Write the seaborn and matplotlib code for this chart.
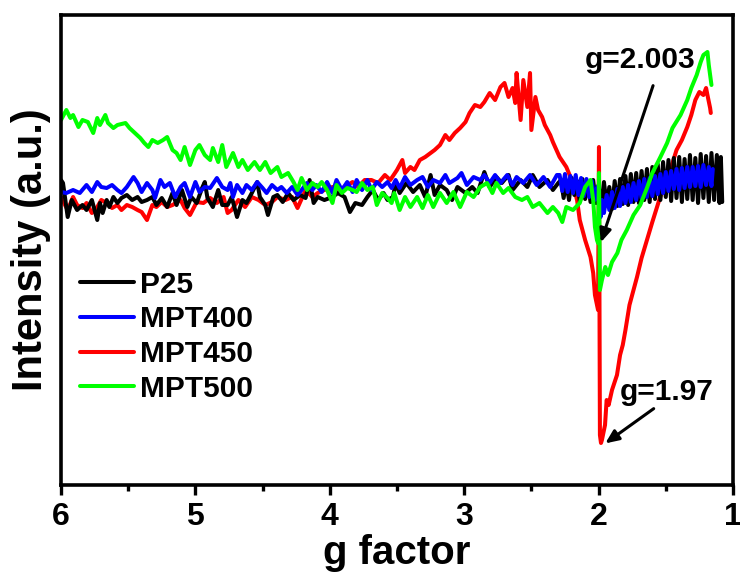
import matplotlib
matplotlib.use("Agg")
import matplotlib.pyplot as plt
from matplotlib.ticker import MultipleLocator
from matplotlib.lines import Line2D
import seaborn as sns
import pandas as pd

# ---- data: (g factor, intensity in arbitrary units) ----
labels = ["P25", "MPT400", "MPT450", "MPT500"]
colors = {"P25": "#000000", "MPT400": "#0000ff", "MPT450": "#ff0000", "MPT500": "#00ff00"}

p25 = [(6.00, 305), (5.985, 302), (5.95, 268), (5.92, 285), (5.88, 275), (5.84, 280), (5.81, 275),
       (5.77, 285), (5.73, 265), (5.71, 282), (5.69, 272), (5.66, 285), (5.64, 278), (5.61, 288),
       (5.58, 282), (5.55, 287), (5.51, 290), (5.47, 285), (5.43, 288), (5.40, 283), (5.36, 285),
       (5.32, 288), (5.29, 280), (5.25, 287), (5.21, 278), (5.17, 292), (5.14, 280), (5.10, 295),
       (5.06, 278), (5.03, 288), (4.99, 282), (4.95, 297), (4.93, 303), (4.91, 287), (4.87, 278),
       (4.83, 295), (4.80, 280), (4.76, 280), (4.73, 288), (4.69, 268), (4.65, 285), (4.62, 282),
       (4.58, 292), (4.54, 303), (4.52, 288), (4.48, 280), (4.46, 270), (4.42, 288), (4.39, 290),
       (4.35, 283), (4.31, 292), (4.27, 285), (4.22, 290), (4.18, 287), (4.15, 305), (4.12, 282),
       (4.09, 288), (4.04, 285), (3.98, 288), (3.94, 292), (3.89, 288), (3.85, 273), (3.81, 282),
       (3.76, 280), (3.72, 288), (3.68, 295), (3.64, 285), (3.60, 292), (3.57, 285), (3.53, 288),
       (3.51, 302), (3.48, 292), (3.43, 302), (3.38, 293), (3.33, 300), (3.29, 288), (3.25, 310),
       (3.22, 290), (3.18, 300), (3.13, 295), (3.09, 285), (3.05, 298), (2.99, 292), (2.94, 298),
       (2.90, 292), (2.85, 313), (2.81, 298), (2.76, 308), (2.72, 302), (2.67, 310), (2.64, 295),
       (2.58, 305), (2.53, 298), (2.49, 310), (2.44, 298), (2.38, 305), (2.34, 295), (2.30, 302),
       (2.28, 305), (2.26, 287), (2.24, 303), (2.22, 285), (2.20, 307), (2.18, 290), (2.16, 304),
       (2.14, 284), (2.12, 306), (2.10, 286), (2.08, 303), (2.06, 283), (2.04, 305), (2.02, 282),
       (2.00, 300), (1.98, 278), (1.96, 303), (1.94, 280), (1.92, 298), (1.90, 276), (1.88, 304),
       (1.86, 279), (1.84, 306), (1.82, 281), (1.80, 309), (1.78, 280), (1.76, 311), (1.74, 283),
       (1.72, 312), (1.70, 282), (1.68, 314), (1.66, 285), (1.64, 316), (1.62, 283), (1.60, 318),
       (1.58, 286), (1.56, 321), (1.54, 285), (1.52, 323), (1.50, 288), (1.48, 325), (1.46, 284),
       (1.44, 327), (1.42, 287), (1.40, 328), (1.38, 283), (1.36, 326), (1.34, 286), (1.32, 330),
       (1.30, 285), (1.28, 327), (1.26, 282), (1.24, 331), (1.22, 287), (1.20, 329), (1.18, 283),
       (1.16, 332), (1.14, 285), (1.12, 330), (1.10, 282), (1.09, 328), (1.08, 283)]

mpt400 = [(6.00, 293), (5.96, 292), (5.91, 295), (5.86, 292), (5.81, 300), (5.77, 293), (5.73, 303),
          (5.70, 298), (5.66, 297), (5.62, 300), (5.58, 295), (5.55, 292), (5.51, 298), (5.46, 308),
          (5.43, 302), (5.40, 293), (5.36, 302), (5.32, 295), (5.30, 287), (5.26, 305), (5.23, 298),
          (5.19, 302), (5.15, 288), (5.11, 298), (5.08, 302), (5.04, 288), (5.00, 303), (4.97, 293),
          (4.93, 298), (4.89, 297), (4.84, 307), (4.80, 298), (4.76, 295), (4.74, 302), (4.72, 288),
          (4.69, 300), (4.65, 292), (4.62, 300), (4.58, 295), (4.54, 303), (4.50, 297), (4.47, 292),
          (4.43, 300), (4.39, 295), (4.36, 298), (4.32, 292), (4.28, 298), (4.24, 290), (4.21, 295),
          (4.17, 302), (4.13, 295), (4.10, 300), (4.06, 293), (4.02, 303), (3.98, 292), (3.95, 305),
          (3.91, 295), (3.87, 303), (3.83, 293), (3.80, 305), (3.76, 295), (3.72, 305), (3.69, 295),
          (3.65, 303), (3.61, 298), (3.57, 303), (3.54, 297), (3.51, 305), (3.48, 297), (3.44, 308),
          (3.40, 300), (3.35, 305), (3.31, 308), (3.27, 298), (3.23, 305), (3.18, 302), (3.14, 310),
          (3.11, 302), (3.05, 307), (3.02, 312), (2.98, 300), (2.93, 308), (2.88, 305), (2.85, 310),
          (2.81, 302), (2.77, 310), (2.73, 302), (2.68, 310), (2.64, 300), (2.61, 308), (2.56, 302),
          (2.51, 310), (2.46, 300), (2.41, 308), (2.36, 298), (2.31, 310),
          (2.29, 310), (2.27, 294), (2.25, 311), (2.23, 293), (2.21, 309), (2.19, 292), (2.17, 310),
          (2.15, 290), (2.13, 307), (2.11, 289), (2.09, 306), (2.07, 288), (2.05, 304), (2.03, 285),
          (2.01, 298), (1.995, 278), (1.985, 268), (1.975, 285), (1.96, 272), (1.94, 290), (1.92, 275),
          (1.90, 293), (1.88, 277), (1.86, 296), (1.84, 279), (1.82, 298), (1.80, 282), (1.78, 300),
          (1.76, 283), (1.74, 302), (1.72, 285), (1.70, 304), (1.68, 287), (1.66, 306), (1.64, 288),
          (1.62, 307), (1.60, 289), (1.58, 309), (1.56, 291), (1.54, 311), (1.52, 292), (1.50, 313),
          (1.48, 294), (1.46, 314), (1.44, 296), (1.42, 316), (1.40, 295), (1.38, 317), (1.36, 297),
          (1.34, 318), (1.32, 298), (1.30, 318), (1.28, 299), (1.26, 319), (1.24, 298), (1.22, 320),
          (1.20, 300), (1.18, 318), (1.16, 299), (1.15, 316)]

mpt450 = [(6.00, 288), (5.97, 280), (5.95, 275), (5.91, 288), (5.88, 280), (5.84, 277), (5.81, 282),
          (5.77, 272), (5.73, 278), (5.70, 285), (5.66, 282), (5.62, 277), (5.58, 280), (5.55, 275),
          (5.51, 280), (5.47, 278), (5.43, 275), (5.40, 273), (5.36, 265), (5.32, 280), (5.29, 278),
          (5.25, 283), (5.21, 278), (5.17, 280), (5.11, 285), (5.08, 277), (5.04, 270), (4.99, 283),
          (4.94, 282), (4.89, 287), (4.84, 282), (4.79, 288), (4.76, 272), (4.73, 275), (4.68, 285),
          (4.63, 278), (4.58, 288), (4.53, 285), (4.48, 280), (4.43, 283), (4.39, 288), (4.33, 285),
          (4.28, 288), (4.24, 277), (4.18, 295), (4.13, 288), (4.09, 292), (4.04, 295), (3.98, 298),
          (3.94, 295), (3.89, 298), (3.83, 303), (3.79, 298), (3.74, 305), (3.69, 305), (3.64, 302),
          (3.59, 310), (3.55, 305), (3.50, 315), (3.46, 325), (3.44, 312), (3.40, 318), (3.37, 315),
          (3.33, 325), (3.29, 328), (3.25, 332), (3.22, 335), (3.18, 340), (3.14, 350), (3.11, 345),
          (3.07, 352), (3.03, 357), (2.99, 363), (2.96, 372), (2.92, 380), (2.88, 378), (2.85, 383),
          (2.81, 392), (2.77, 385), (2.73, 398), (2.70, 402), (2.67, 388), (2.64, 397), (2.62, 382),
          (2.61, 412), (2.58, 365), (2.56, 405), (2.53, 378), (2.51, 412), (2.50, 355), (2.47, 388),
          (2.45, 375), (2.42, 368), (2.40, 360), (2.36, 350), (2.34, 343), (2.29, 328), (2.24, 318),
          (2.20, 305), (2.16, 285), (2.14, 265), (2.10, 245), (2.06, 228), (2.04, 212), (2.027, 190),
          (2.012, 180), (2.004, 175), (1.997, 338), (1.99, 50), (1.982, 42), (1.975, 45), (1.952, 60),
          (1.94, 85), (1.925, 80), (1.90, 95), (1.863, 110), (1.84, 130), (1.82, 140), (1.80, 155),
          (1.77, 180), (1.74, 195), (1.714, 208), (1.68, 227), (1.64, 245), (1.60, 263), (1.565, 278),
          (1.53, 293), (1.49, 308), (1.45, 322), (1.42, 335), (1.38, 345), (1.34, 358), (1.31, 370),
          (1.28, 385), (1.25, 393), (1.22, 390), (1.20, 397), (1.19, 390), (1.17, 377), (1.165, 372)]

mpt500 = [(6.00, 365), (5.96, 375), (5.93, 367), (5.91, 370), (5.87, 358), (5.84, 365), (5.80, 363),
          (5.76, 352), (5.73, 367), (5.71, 360), (5.67, 370), (5.65, 362), (5.61, 357), (5.58, 360),
          (5.52, 362), (5.49, 357), (5.45, 352), (5.41, 347), (5.38, 342), (5.35, 338), (5.32, 345),
          (5.28, 342), (5.24, 345), (5.21, 348), (5.17, 335), (5.14, 332), (5.11, 325), (5.08, 338),
          (5.04, 320), (5.00, 335), (4.97, 340), (4.93, 330), (4.89, 325), (4.87, 337), (4.83, 323),
          (4.80, 340), (4.77, 318), (4.72, 332), (4.68, 318), (4.65, 325), (4.61, 315), (4.56, 323),
          (4.52, 315), (4.48, 323), (4.44, 312), (4.39, 318), (4.36, 308), (4.31, 312), (4.27, 303),
          (4.24, 295), (4.21, 307), (4.17, 295), (4.13, 302), (4.09, 298), (4.06, 303), (4.02, 295),
          (3.98, 282), (3.95, 300), (3.91, 292), (3.87, 297), (3.83, 295), (3.80, 293), (3.76, 302),
          (3.72, 295), (3.68, 298), (3.65, 280), (3.61, 292), (3.57, 287), (3.54, 282), (3.52, 292),
          (3.48, 275), (3.44, 288), (3.40, 278), (3.35, 288), (3.31, 277), (3.27, 290), (3.23, 278),
          (3.18, 292), (3.13, 282), (3.08, 293), (3.03, 278), (2.98, 293), (2.93, 288), (2.88, 298),
          (2.83, 302), (2.79, 292), (2.76, 302), (2.71, 292), (2.67, 297), (2.62, 288), (2.57, 285),
          (2.53, 288), (2.49, 278), (2.44, 282), (2.38, 272), (2.34, 278), (2.30, 272), (2.27, 263),
          (2.24, 278), (2.19, 275), (2.14, 282), (2.10, 298), (2.06, 305), (2.04, 285), (2.027, 258),
          (2.012, 245), (2.004, 242), (1.997, 312), (1.99, 195), (1.975, 205), (1.95, 218),
          (1.93, 210), (1.90, 223), (1.86, 232), (1.83, 245), (1.79, 255), (1.74, 270), (1.69, 280),
          (1.64, 297), (1.60, 312), (1.54, 328), (1.49, 342), (1.45, 357), (1.39, 370), (1.34, 385),
          (1.31, 397), (1.27, 410), (1.24, 423), (1.22, 430), (1.19, 433), (1.18, 420), (1.16, 400)]

series = {"P25": p25, "MPT400": mpt400, "MPT450": mpt450, "MPT500": mpt500}
draw_order = ["MPT450", "P25", "MPT400", "MPT500"]

# ---- figure ----
sns.set_style("ticks")
plt.rcParams["font.family"] = ["Liberation Sans", "DejaVu Sans"]
plt.rcParams["font.weight"] = "bold"
for key in ["text.color", "axes.labelcolor", "xtick.color", "ytick.color", "axes.edgecolor"]:
    plt.rcParams[key] = "black"

fig = plt.figure(figsize=(7.4, 5.75), dpi=100)
ax = fig.add_axes([0.0824, 0.1565, 0.9081, 0.8174])

for name in draw_order:
    df = pd.DataFrame(series[name], columns=["g", "I"])
    sns.lineplot(data=df, x="g", y="I", ax=ax, color=colors[name], lw=2.9,
                 sort=False, estimator=None, legend=False)

ax.set_xlim(6, 1)
ax.set_ylim(0, 470)
ax.set_yticks([])
ax.xaxis.set_major_locator(MultipleLocator(1))
ax.xaxis.set_minor_locator(MultipleLocator(0.5))
ax.tick_params(axis="x", which="major", direction="out", length=7, width=2.4,
               labelsize=23, pad=5, top=False)
ax.tick_params(axis="x", which="minor", direction="out", length=4, width=2.4, top=False)
for lab in ax.get_xticklabels():
    lab.set_fontweight("bold")
for s in ax.spines.values():
    s.set_linewidth(2.6)
    s.set_visible(True)
    s.set_color("black")

ax.set_xlabel("g factor", fontsize=29, fontweight="bold", labelpad=2)
ax.set_ylabel("Intensity (a.u.)", fontsize=30, fontweight="bold", labelpad=7)

handles = [Line2D([0], [0], color=colors[n], lw=2.9) for n in labels]
leg = ax.legend(handles, labels, loc="upper left", bbox_to_anchor=(-0.003, 0.5),
                frameon=False, fontsize=21.5, handlelength=1.8, handletextpad=0.22,
                labelspacing=0.22, borderaxespad=0.3)
for t in leg.get_texts():
    t.set_fontweight("bold")

# annotations
ax.annotate("", xy=(1.99, 240), xytext=(1.588, 402),
            arrowprops=dict(arrowstyle="-|>,head_length=0.8,head_width=0.35", color="black", lw=2.2))
ax.text(1.692, 425, "g=2.003", fontsize=21.5, fontweight="bold", ha="center", va="center")
ax.annotate("", xy=(1.967, 40), xytext=(1.573, 78),
            arrowprops=dict(arrowstyle="-|>,head_length=0.8,head_width=0.35", color="black", lw=2.2))
ax.text(1.49, 93, "g=1.97", fontsize=21.5, fontweight="bold", ha="center", va="center")

fig.savefig("out.png", dpi=100)
